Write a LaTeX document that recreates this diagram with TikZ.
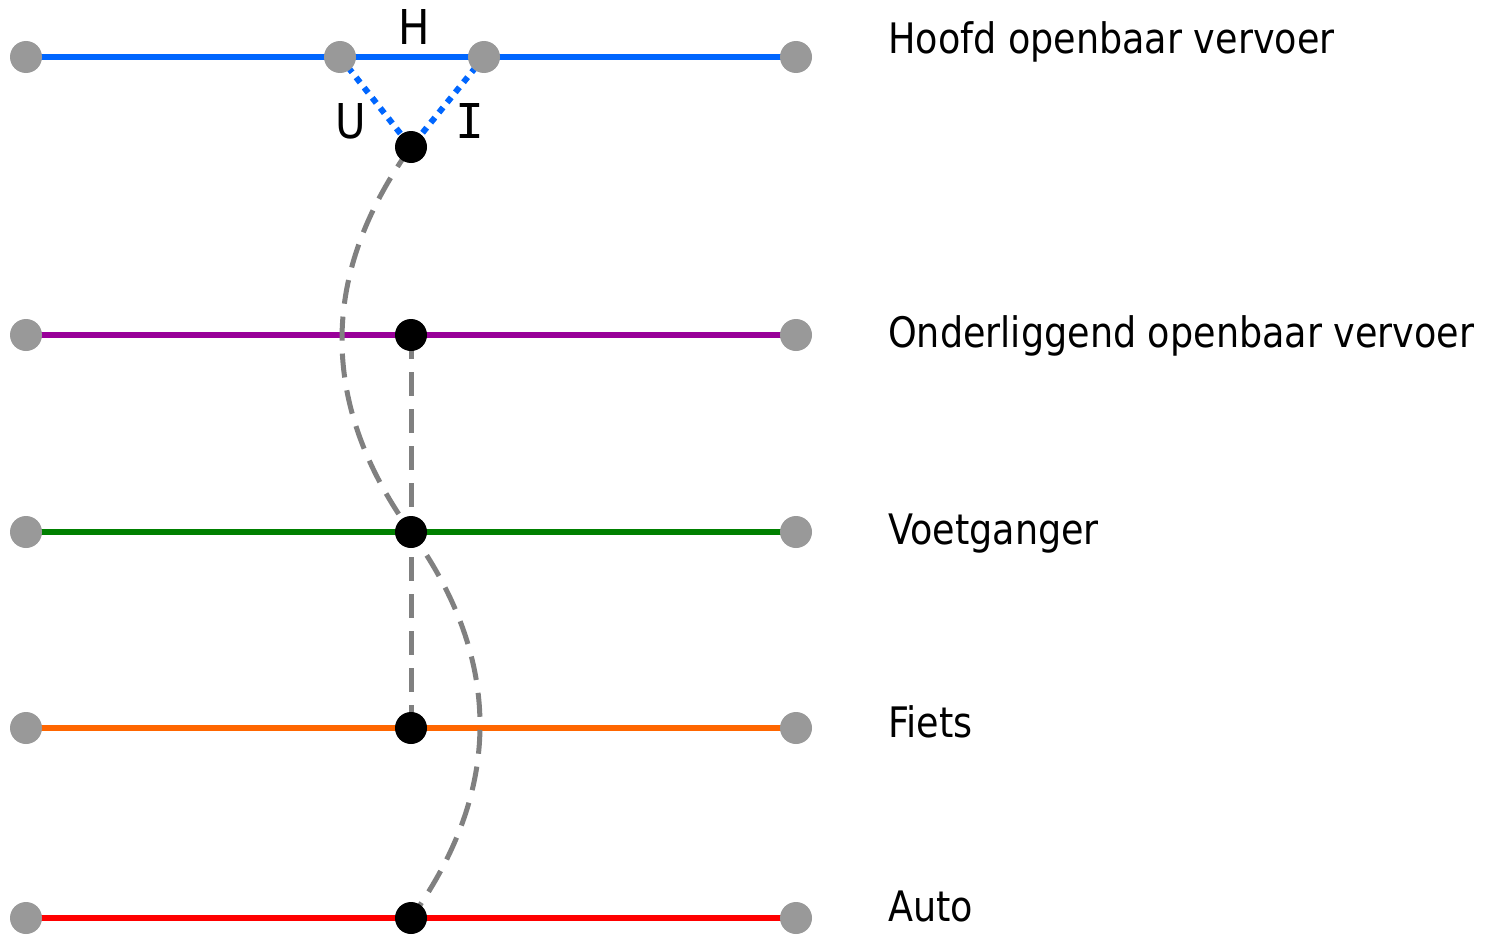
\documentclass[tikz,border=0pt]{standalone}
\usepackage{fontspec}
\setmainfont{DejaVu Sans}[FakeStretch=0.87]
\newfontfamily\serifI{DejaVu Sans Mono}
\definecolor{cblue}{RGB}{0,102,255}
\definecolor{cpurple}{RGB}{153,0,153}
\definecolor{cgreen}{RGB}{0,128,0}
\definecolor{corange}{RGB}{255,102,0}
\definecolor{cred}{RGB}{255,0,0}
\definecolor{cgraydot}{RGB}{153,153,153}
\definecolor{cdash}{RGB}{128,128,128}
\tikzset{
  layer/.style={line width=6pt},
  enddot/.style={circle,fill=cgraydot,inner sep=0pt,minimum size=32pt},
  hubdot/.style={circle,fill=black,inner sep=0pt,minimum size=32pt},
  transfer/.style={cblue,line width=6pt,dash pattern=on 6.5pt off 6.5pt},
  link/.style={cdash,line width=5pt,dash pattern=on 24pt off 13pt},
  lab/.style={anchor=base west,inner sep=0pt,font=\fontsize{42}{50}\selectfont},
  let/.style={anchor=base,inner sep=0pt,font=\fontsize{48}{56}\selectfont}
}
\begin{document}
\begin{tikzpicture}[x=1pt,y=-1pt]
\useasboundingbox (0,0) rectangle (1490,934);
% coordinates
\coordinate (bL) at (26,57);  \coordinate (bR) at (796,57);
\coordinate (pL) at (26,335); \coordinate (pR) at (796,335);
\coordinate (gL) at (26,532); \coordinate (gR) at (796,532);
\coordinate (oL) at (26,728); \coordinate (oR) at (796,728);
\coordinate (rL) at (26,918); \coordinate (rR) at (796,918);
% lines
\draw[layer,cblue] (bL) -- (bR);
\draw[layer,cpurple] (pL) -- (pR);
\draw[layer,cgreen] (gL) -- (gR);
\draw[layer,corange] (oL) -- (oR);
\draw[layer,cred] (rL) -- (rR);
% hubs positions
\coordinate (t) at (411,147);
\coordinate (p) at (411,335);
\coordinate (g) at (411,532);
\coordinate (o) at (411,728);
\coordinate (r) at (411,918);
\coordinate (u) at (340,57);
\coordinate (i) at (484,57);
% transfers
\draw[transfer] (u) -- (t);
\draw[transfer] (i) -- (t);
% dashed links
\draw[link] (p) -- (o);
\draw[link] (t) .. controls (319,275) and (319,404) .. (g)
               .. controls (503,660) and (503,790) .. (r);
% end dots
\foreach \c in {bL,bR,pL,pR,gL,gR,oL,oR,rL,rR,u,i}
  \node[enddot] at (\c) {};
% hub dots
\node[hubdot] (nt) at (t) {};
\node[hubdot] (np) at (p) {};
\node[hubdot] (ng) at (g) {};
\node[hubdot] (no) at (o) {};
\node[hubdot] (nr) at (r) {};
% letters
\node[let] (lh) at (414,45) {H};
\node[let] (lu) at (351,138) {U};
\node[let] (li) at (470,138) {\serifI I};
% labels
\node[lab] (l1) at (888,53) {Hoofd openbaar vervoer};
\node[lab] (l2) at (888,347) {Onderliggend openbaar vervoer};
\node[lab] (l3) at (888,544) {Voetganger};
\node[lab] (l4) at (888,737) {Fiets};
\node[lab] (l5) at (888,921) {Auto};
\end{tikzpicture}
\end{document}
